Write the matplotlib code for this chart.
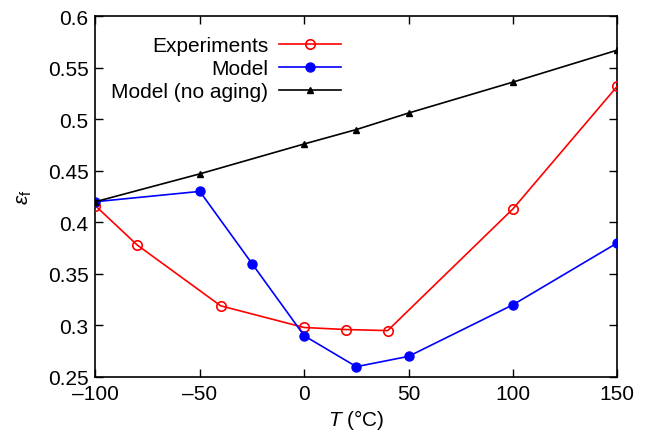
import matplotlib
matplotlib.use("Agg")
import matplotlib.pyplot as plt

plt.rcParams['font.family'] = ['Liberation Sans', 'DejaVu Sans']
plt.rcParams['mathtext.fontset'] = 'custom'
plt.rcParams['mathtext.rm'] = 'Liberation Sans'
plt.rcParams['mathtext.it'] = 'Liberation Sans:italic'

exp_T = [-100, -80, -40, 0, 20, 40, 100, 150]
exp_e = [0.416, 0.378, 0.319, 0.298, 0.296, 0.295, 0.413, 0.532]

mod_T = [-100, -50, -25, 0, 25, 50, 100, 150]
mod_e = [0.420, 0.430, 0.360, 0.290, 0.260, 0.270, 0.320, 0.380]

noag_T = [-100, -50, 0, 25, 50, 100, 150]
noag_e = [0.420, 0.447, 0.476, 0.490, 0.506, 0.536, 0.567]

xticks = [-100, -50, 0, 50, 100, 150]
xticklabels = ['\u2013100', '\u201350', '0', '50', '100', '150']
yticks = [0.25, 0.3, 0.35, 0.4, 0.45, 0.5, 0.55, 0.6]
yticklabels = ['0.25', '0.3', '0.35', '0.4', '0.45', '0.5', '0.55', '0.6']

fig = plt.figure(figsize=(6.45, 4.39), dpi=100)
ax = fig.add_axes([0.148, 0.139, 0.809, 0.822])

ax.plot(exp_T, exp_e, color='red', lw=1.2, marker='o', mfc='none', mec='red',
        ms=6.8, mew=1.2, label='Experiments', zorder=3)
ax.plot(mod_T, mod_e, color='blue', lw=1.2, marker='o', mfc='blue', mec='blue',
        ms=6.5, label='Model', zorder=4)
ax.plot(noag_T, noag_e, color='black', lw=1.2, marker='^', mfc='black', mec='black',
        ms=5, label='Model (no aging)', zorder=5)

ax.set_xlim(-100, 150)
ax.set_ylim(0.25, 0.6)
ax.set_xticks(xticks)
ax.set_xticklabels(xticklabels)
ax.set_yticks(yticks)
ax.set_yticklabels(yticklabels)
ax.tick_params(direction='in', top=True, right=True, labelsize=15, length=6, width=1, pad=5)
for s in ax.spines.values():
    s.set_linewidth(1.2)

ax.set_xlabel(r'$\mathit{T}$ (°C)', fontsize=15, labelpad=3)
ax.set_ylabel(r'$\varepsilon_\mathrm{f}$', fontsize=15, labelpad=10)

leg = ax.legend(loc='upper left', bbox_to_anchor=(0.006, 0.98), frameon=False,
                markerfirst=False, fontsize=15, handlelength=3.0, labelspacing=0.2,
                handletextpad=0.5, borderaxespad=0.2)
for t in leg.get_texts():
    t.set_ha('right')
leg._legend_box.align = 'right'

fig.savefig('out.png', dpi=100)
